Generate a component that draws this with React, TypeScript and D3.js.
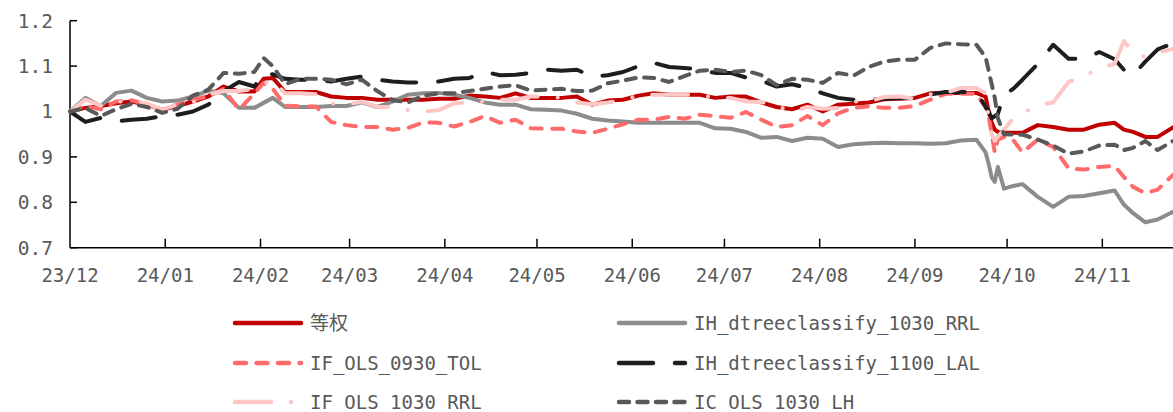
import React from "react";
import * as d3 from "d3";

const dates = [
  "2023-12-01", "2023-12-06", "2023-12-11", "2023-12-16", "2023-12-21", "2023-12-26", "2023-12-31", "2024-01-05", "2024-01-10", "2024-01-15",
  "2024-01-20", "2024-01-25", "2024-01-30", "2024-02-02", "2024-02-05", "2024-02-09", "2024-02-14", "2024-02-19", "2024-02-24", "2024-02-29",
  "2024-03-05", "2024-03-10", "2024-03-15", "2024-03-20", "2024-03-25", "2024-03-30", "2024-04-04", "2024-04-09", "2024-04-14", "2024-04-19",
  "2024-04-24", "2024-04-29", "2024-05-04", "2024-05-09", "2024-05-14", "2024-05-19", "2024-05-24", "2024-05-29", "2024-06-03", "2024-06-08",
  "2024-06-13", "2024-06-18", "2024-06-23", "2024-06-28", "2024-07-03", "2024-07-08", "2024-07-13", "2024-07-18", "2024-07-23", "2024-07-28",
  "2024-08-02", "2024-08-07", "2024-08-12", "2024-08-17", "2024-08-22", "2024-08-27", "2024-09-01", "2024-09-06", "2024-09-11", "2024-09-16",
  "2024-09-21", "2024-09-24", "2024-09-25", "2024-09-26", "2024-09-27", "2024-09-28", "2024-09-30", "2024-10-03", "2024-10-06", "2024-10-11",
  "2024-10-16", "2024-10-21", "2024-10-26", "2024-10-31", "2024-11-05", "2024-11-08", "2024-11-11", "2024-11-15", "2024-11-19", "2024-11-24",
];

const eqValues = [
  1.000, 1.008, 1.012, 1.018, 1.022, 1.015, 1.004, 1.012, 1.022, 1.033,
  1.055, 1.044, 1.044, 1.072, 1.074, 1.043, 1.043, 1.043, 1.033, 1.030,
  1.030, 1.026, 1.026, 1.026, 1.026, 1.028, 1.028, 1.035, 1.033, 1.030,
  1.040, 1.030, 1.030, 1.030, 1.033, 1.015, 1.024, 1.026, 1.035, 1.040,
  1.037, 1.037, 1.037, 1.030, 1.033, 1.033, 1.020, 1.010, 1.005, 1.015,
  1.000, 1.015, 1.017, 1.020, 1.027, 1.028, 1.030, 1.040, 1.041, 1.041,
  1.041, 1.033, 1.000, 0.975, 0.960, 0.955, 0.953, 0.953, 0.953, 0.970,
  0.966, 0.960, 0.960, 0.971, 0.975, 0.960, 0.955, 0.944, 0.944, 0.965,
];

const ih1030Values = [
  1.000, 1.030, 1.012, 1.041, 1.046, 1.030, 1.022, 1.024, 1.033, 1.046,
  1.040, 1.008, 1.008, 1.019, 1.030, 1.010, 1.010, 1.010, 1.012, 1.012,
  1.020, 1.010, 1.022, 1.037, 1.040, 1.041, 1.037, 1.030, 1.020, 1.015,
  1.015, 1.005, 1.004, 1.002, 0.995, 0.984, 0.980, 0.978, 0.975, 0.975,
  0.975, 0.975, 0.975, 0.963, 0.962, 0.955, 0.942, 0.944, 0.935, 0.942,
  0.940, 0.922, 0.928, 0.930, 0.931, 0.930, 0.930, 0.929, 0.930, 0.936,
  0.938, 0.910, 0.885, 0.855, 0.845, 0.878, 0.830, 0.836, 0.840, 0.812,
  0.790, 0.812, 0.814, 0.820, 0.826, 0.795, 0.776, 0.756, 0.762, 0.779,
];

const if0930Values = [
  1.000, 1.012, 1.005, 1.022, 1.025, 1.015, 1.004, 1.015, 1.026, 1.033,
  1.050, 1.004, 1.040, 1.063, 1.050, 1.013, 1.011, 1.011, 0.977, 0.970,
  0.966, 0.966, 0.960, 0.964, 0.976, 0.975, 0.967, 0.977, 0.990, 0.975,
  0.982, 0.963, 0.962, 0.962, 0.956, 0.953, 0.962, 0.972, 0.982, 0.982,
  0.988, 0.984, 0.993, 0.990, 0.986, 0.999, 0.982, 0.966, 0.970, 0.990,
  0.970, 0.996, 1.008, 1.011, 1.008, 1.008, 1.012, 1.026, 1.039, 1.039,
  1.039, 1.010, 0.990, 0.950, 0.910, 0.938, 0.944, 0.937, 0.910, 0.938,
  0.922, 0.875, 0.872, 0.878, 0.880, 0.856, 0.834, 0.820, 0.828, 0.860,
];

const ih1100Values = [
  1.000, 0.977, 0.986, 0.978, 0.982, 0.984, 0.990, 0.993, 1.000, 1.015,
  1.045, 1.065, 1.055, 1.085, 1.082, 1.072, 1.070, 1.070, 1.066, 1.072,
  1.077, 1.070, 1.066, 1.064, 1.064, 1.066, 1.072, 1.074, 1.087, 1.080,
  1.081, 1.085, 1.092, 1.090, 1.092, 1.077, 1.080, 1.087, 1.100, 1.107,
  1.098, 1.096, 1.092, 1.085, 1.085, 1.075, 1.068, 1.055, 1.060, 1.052,
  1.040, 1.030, 1.026, 1.026, 1.028, 1.030, 1.030, 1.038, 1.043, 1.043,
  1.043, 1.010, 1.000, 0.985, 0.990, 0.995, 1.037, 1.050, 1.070, 1.105,
  1.147, 1.116, 1.116, 1.131, 1.115, 1.092, 1.080, 1.110, 1.137, 1.150,
];

const if1030Values = [
  1.000, 1.026, 1.013, 1.022, 1.022, 1.018, 1.004, 1.015, 1.020, 1.038,
  1.045, 1.045, 1.050, 1.060, 1.070, 1.040, 1.040, 1.038, 1.018, 1.015,
  1.022, 1.010, 1.010, 1.003, 1.000, 1.003, 1.018, 1.020, 1.022, 1.026,
  1.026, 1.033, 1.033, 1.030, 1.020, 1.016, 1.020, 1.025, 1.035, 1.037,
  1.037, 1.037, 1.037, 1.030, 1.030, 1.022, 1.021, 1.012, 1.000, 1.010,
  1.006, 1.008, 1.022, 1.022, 1.032, 1.033, 1.028, 1.038, 1.041, 1.052,
  1.052, 1.040, 0.985, 0.950, 0.935, 0.945, 0.960, 0.985, 0.995, 1.015,
  1.020, 1.065, 1.078, 1.095, 1.105, 1.155, 1.130, 1.120, 1.130, 1.138,
];

const icValues = [
  1.000, 1.008, 0.990, 1.005, 1.017, 1.010, 0.997, 1.006, 1.035, 1.048,
  1.085, 1.083, 1.087, 1.118, 1.100, 1.060, 1.072, 1.072, 1.070, 1.060,
  1.070, 1.045, 1.025, 1.020, 1.035, 1.040, 1.040, 1.045, 1.050, 1.055,
  1.058, 1.046, 1.048, 1.050, 1.045, 1.046, 1.062, 1.068, 1.075, 1.074,
  1.065, 1.078, 1.090, 1.092, 1.087, 1.090, 1.080, 1.058, 1.072, 1.070,
  1.063, 1.085, 1.079, 1.098, 1.110, 1.114, 1.114, 1.140, 1.150, 1.148,
  1.147, 1.120, 1.090, 1.060, 1.030, 0.985, 0.950, 0.949, 0.949, 0.938,
  0.925, 0.907, 0.912, 0.925, 0.927, 0.915, 0.920, 0.935, 0.915, 0.935,
];

const seriesNames = [
  "等权",
  "IH_dtreeclassify_1030_RRL",
  "IF_OLS_0930_TOL",
  "IH_dtreeclassify_1100_LAL",
  "IF_OLS_1030_RRL",
  "IC_OLS_1030_LH",
];
const seriesValues = [eqValues, ih1030Values, if0930Values, ih1100Values, if1030Values, icValues];

const yTicks = [0.7, 0.8, 0.9, 1, 1.1, 1.2];
const xStart = "2023-12-01";
const xEnd = "2024-11-24";

const styles = [
  { color: "#C00000", dash: "" },
  { color: "#8C8C8C", dash: "" },
  { color: "#FF6B6B", dash: "11 10.5" },
  { color: "#1E1E1E", dash: "34 22" },
  { color: "#FFC6C6", dash: "36 20 0.1 20" },
  { color: "#595959", dash: "10 8.5" },
];

const W = 1173;
const H = 412;
const FONT = "'DejaVu Sans Mono', 'Noto Sans CJK SC', monospace";

export default function App() {
  const parse = d3.timeParse("%Y-%m-%d");
  const x = d3.scaleTime().domain([parse(xStart)!, parse(xEnd)!]).range([70, 1173]);
  const y = d3.scaleLinear().domain([0.7, 1.2]).range([247.7, 20.7]);
  const parsed = dates.map((d) => parse(d)!);
  const months = d3.timeMonth.range(parse(xStart)!, d3.timeDay.offset(parse(xEnd)!, 1));
  const fmtX = d3.timeFormat("%y/%m");
  const fmtY = d3.format("~g");

  const line = d3
    .line<number>()
    .x((_, i) => x(parsed[i]))
    .y((v) => y(v))
    .curve(d3.curveLinear);

  const legendCols = [233, 617];
  const legendRows = [323, 363, 402];

  return (
    <svg
      width={W}
      height={H}
      style={{ position: "absolute", left: 0, top: 0, display: "block", background: "#fff" }}
    >
      <defs>
        <clipPath id="plotclip">
          <rect x={0} y={0} width={W} height={260} />
        </clipPath>
      </defs>
      <rect x={0} y={0} width={W} height={H} fill="#fff" />

      {/* axes */}
      <line x1={70} x2={70} y1={y(1.2)} y2={y(0.7)} stroke="#000" strokeWidth={1.5} />
      <line x1={70} x2={W} y1={y(0.7)} y2={y(0.7)} stroke="#000" strokeWidth={1.5} />
      {yTicks.map((t) => (
        <g key={"y" + t}>
          <line x1={70} x2={77} y1={y(t)} y2={y(t)} stroke="#000" strokeWidth={1.5} />
          <text
            x={53}
            y={y(t)}
            dy="0.35em"
            textAnchor="end"
            fontFamily={FONT}
            fontSize={19.5}
            fill="#595959"
          >
            {fmtY(t)}
          </text>
        </g>
      ))}
      {months.map((m, i) => (
        <g key={"x" + i}>
          {i > 0 && (
            <line x1={x(m)} x2={x(m)} y1={y(0.7)} y2={y(0.7) - 9} stroke="#000" strokeWidth={1.5} />
          )}
          <text
            x={x(m)}
            y={282}
            textAnchor="middle"
            fontFamily={FONT}
            fontSize={19}
            fill="#595959"
          >
            {fmtX(m)}
          </text>
        </g>
      ))}

      {/* series */}
      <g clipPath="url(#plotclip)">
        {seriesValues.map((vals, i) => (
          <path
            key={"s" + i}
            d={line(vals) || ""}
            fill="none"
            stroke={styles[i].color}
            strokeWidth={4}
            strokeDasharray={styles[i].dash || undefined}
            strokeLinecap="round"
            strokeLinejoin="round"
          />
        ))}
      </g>

      {/* legend */}
      {seriesNames.map((name, i) => {
        const lx = legendCols[i % 2];
        const ly = legendRows[Math.floor(i / 2)];
        return (
          <g key={"l" + i}>
            <line
              x1={lx + 2}
              x2={lx + 68}
              y1={ly}
              y2={ly}
              stroke={styles[i].color}
              strokeWidth={4.5}
              strokeDasharray={styles[i].dash || undefined}
              strokeLinecap="round"
            />
            <text
              x={lx + 77}
              y={ly}
              dy="0.36em"
              fontFamily={FONT}
              fontSize={19}
              fill="#595959"
            >
              {name}
            </text>
          </g>
        );
      })}
    </svg>
  );
}
